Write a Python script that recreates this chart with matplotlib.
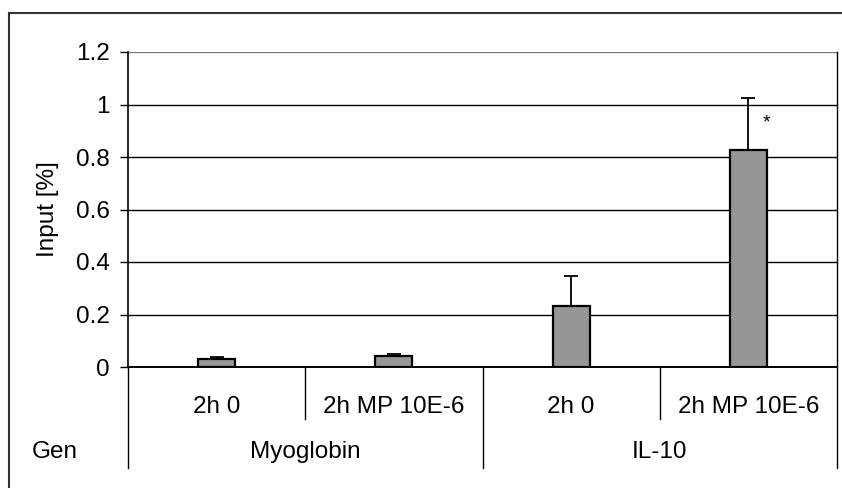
# Bar chart of input [%] per gene and treatment, Excel style table axis

import matplotlib.pyplot as plt
import matplotlib.lines as mlines

plt.rcParams['font.family'] = ['Liberation Sans', 'DejaVu Sans']

# ------ Data ------
genes = ['Myoglobin', 'IL-10']
conditions = ['2h 0', '2h MP 10E-6', '2h 0', '2h MP 10E-6']
means = [0.030, 0.043, 0.234, 0.828]
errs_up = [0.007, 0.007, 0.111, 0.196]
yticks = [0, 0.2, 0.4, 0.6, 0.8, 1, 1.2]
ytick_labels = ['0', '0.2', '0.4', '0.6', '0.8', '1', '1.2']
star_bar = 3

W, H = 842, 488
fig = plt.figure(figsize=(W / 100, H / 100), dpi=100)

# plot area in pixels: x 128..837, y 52..367
x0, x1, y0, y1 = 128, 837, 52, 367
ax = fig.add_axes([x0 / W, 1 - y1 / H, (x1 - x0) / W, (y1 - y0) / H])
ax_h = y1 - y0

def ay(py):
    # pixel row -> axes fraction
    return (y1 - py) / ax_h

fs = 17.5

# gridlines
for t in yticks[1:]:
    ax.axhline(t, color='gray' if t == 1.2 else 'black', lw=1.0, zorder=1)

xs = list(range(len(means)))
ax.bar(xs, means, width=0.21, color='#969696', edgecolor='black', lw=1.6, zorder=3)
ax.errorbar(xs, means, yerr=[[0] * len(means), errs_up], fmt='none', ecolor='black',
            elinewidth=1.3, capsize=5, capthick=1.3, zorder=4)
ax.text(star_bar + 0.1, means[star_bar] + 0.1, '*', fontsize=14, ha='center', va='center')

ax.set_xlim(-0.5, len(means) - 0.5)
ax.set_ylim(0, 1.2)
ax.set_yticks(yticks)
ax.set_yticklabels(ytick_labels, fontsize=fs)
ax.tick_params(axis='y', direction='out', length=6, width=1, pad=7)
ax.set_xticks([])
for s in ['top', 'right']:
    ax.spines[s].set_visible(False)
ax.spines['left'].set_linewidth(1.2)
ax.spines['bottom'].set_linewidth(1.4)
ax.set_ylabel('Input [%]', fontsize=fs, labelpad=12)

# table under the axis
tr = ax.get_xaxis_transform()
ax.plot([-0.5, -0.5], [0, ay(468)], transform=tr, color='black', lw=1, clip_on=False)
ax.plot([3.5, 3.5], [1, ay(468)], transform=tr, color='black', lw=1, clip_on=False)
ax.plot([1.5, 1.5], [0, ay(468)], transform=tr, color='black', lw=1, clip_on=False)
for xd in [0.5, 2.5]:
    ax.plot([xd, xd], [0, ay(419)], transform=tr, color='black', lw=1, clip_on=False)
for i, c in enumerate(conditions):
    ax.text(i, ay(407), c, transform=tr, ha='center', va='center', fontsize=fs)
for g, gname in enumerate(genes):
    ax.text(2 * g + 0.5, ay(452), gname, transform=tr, ha='center', va='center', fontsize=fs)
fig.text(32 / W, 1 - 452 / H, 'Gen', ha='left', va='center', fontsize=fs)

# outer frame (cropped at right and bottom)
fig.add_artist(mlines.Line2D([9 / W, 9 / W], [0, 1 - 13 / H], color='#333333', lw=1.5))
fig.add_artist(mlines.Line2D([9 / W, 1], [1 - 13 / H, 1 - 13 / H], color='#333333', lw=1.5))

plt.savefig('out.png', dpi=100)
